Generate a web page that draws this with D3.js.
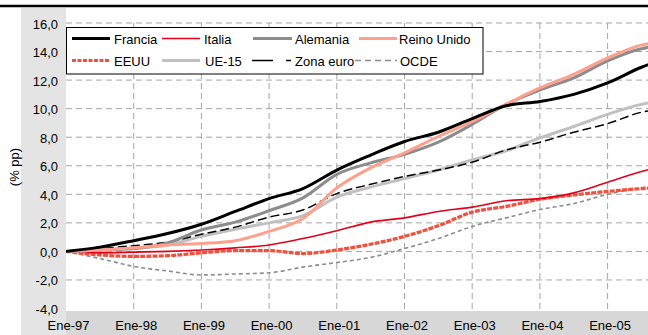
<!DOCTYPE html>
<html><head><meta charset="utf-8">
<script src="https://cdn.jsdelivr.net/npm/d3@7"></script>
<style>html,body{margin:0;padding:0;background:#fff;}svg{display:block;font-family:"Liberation Sans",Arial,sans-serif;}</style>
</head><body>
<script>
// months since Ene-97
const months = [0,6,12,18,24,30,36,42,48,54,60,66,72,78,84,90,96,102,104];
const xTickLabels = ["Ene-97","Ene-98","Ene-99","Ene-00","Ene-01","Ene-02","Ene-03","Ene-04","Ene-05"];
const yTicks = [16,14,12,10,8,6,4,2,0,-2,-4];
const francia    = [0,0.3,0.75,1.25,1.9,2.8,3.7,4.4,5.7,6.75,7.7,8.35,9.3,10.2,10.5,11.0,11.8,12.9,13.2];
const italia     = [0,-0.1,-0.05,0.0,0.1,0.25,0.45,0.9,1.45,2.05,2.35,2.8,3.1,3.55,3.7,4.1,4.85,5.6,5.8];
const alemania   = [0,0.1,0.2,0.6,1.5,2.05,2.85,3.75,5.4,6.2,6.8,7.65,8.9,10.3,11.3,12.15,13.35,14.2,14.35];
const reinoUnido = [0,0.1,0.25,0.45,0.55,0.75,1.4,2.3,4.45,5.85,6.9,8.05,9.1,10.3,11.45,12.4,13.55,14.45,14.6];
const eeuu       = [0,-0.25,-0.35,-0.3,-0.1,0.05,0.05,-0.15,0.1,0.5,1.05,1.8,2.75,3.15,3.65,3.95,4.2,4.4,4.45];
const ue15       = [0,0.1,0.2,0.45,1.05,1.55,2.0,2.5,3.8,4.5,5.1,5.7,6.4,7.05,7.95,8.75,9.6,10.3,10.45];
const zonaEuro   = [0,0.2,0.4,0.65,1.2,1.7,2.4,2.9,4.05,4.7,5.25,5.7,6.25,7.1,7.65,8.35,8.95,9.75,9.9];
const ocde       = [0,-0.5,-1.05,-1.37,-1.65,-1.58,-1.5,-1.1,-0.78,-0.42,0.2,0.9,1.75,2.35,2.93,3.35,4.0,4.45,4.55];

const W = 648, H = 335;
const svg = d3.select("body").append("svg").attr("width", W).attr("height", H);

const x = d3.scaleLinear().domain([0, 108]).range([66, 66 + 9 * 67.7]);
const y = d3.scaleLinear().domain([16, -4]).range([23, 308.5]);

// background bands
svg.append("rect").attr("x", 21).attr("y", 8).attr("width", 45).attr("height", H - 8).attr("fill", "#e4e4e4");
svg.append("rect").attr("x", 66).attr("y", 311).attr("width", W - 66).attr("height", H - 311).attr("fill", "#d7d7d7");
// top rule
svg.append("line").attr("x1", 0).attr("x2", W).attr("y1", 6).attr("y2", 6).attr("stroke", "#000").attr("stroke-width", 2.5);

svg.append("clipPath").attr("id", "clip").append("rect").attr("x", 66).attr("y", 15).attr("width", W - 66).attr("height", 296);
const plot = svg.append("g").attr("clip-path", "url(#clip)");

// gridlines
const gridColor = "#a6a6a6";
plot.selectAll(".hg").data(yTicks.filter(v => v > -4)).enter().append("line")
  .attr("x1", 66).attr("x2", W).attr("y1", d => y(d)).attr("y2", d => y(d))
  .attr("stroke", gridColor).attr("stroke-width", 1).attr("stroke-dasharray", "6,4");
plot.selectAll(".vg").data(xTickLabels.map((d, i) => i * 12).filter(m => m > 0)).enter().append("line")
  .attr("x1", d => x(d)).attr("x2", d => x(d)).attr("y1", y(16)).attr("y2", 311)
  .attr("stroke", gridColor).attr("stroke-width", 1).attr("stroke-dasharray", "6,4");

// y tick labels
svg.selectAll(".yl").data(yTicks).enter().append("text")
  .attr("x", 58).attr("y", d => y(d) + 5.5).attr("text-anchor", "end")
  .attr("font-size", 13).attr("fill", "#000").text(d => d3.format(".1f")(d).replace(".", ",").replace("−", "-"));
// x tick labels
svg.selectAll(".xl").data(xTickLabels).enter().append("text")
  .attr("x", (d, i) => x(i * 12) + 2.5).attr("y", 330).attr("text-anchor", "middle")
  .attr("font-size", 13).attr("fill", "#000").text(d => d);
// y title
svg.append("text").attr("transform", "translate(19,167) rotate(-90)").attr("text-anchor", "middle")
  .attr("font-size", 13).attr("fill", "#000").text("(% pp)");

const series = [
  {name: "OCDE", values: ocde, color: "#8c8c8c", width: 1.6, dash: "4,3"},
  {name: "EEUU", values: eeuu, color: "#f0503c", width: 3.2, dash: "5,1.2"},
  {name: "Italia", values: italia, color: "#e2001a", width: 1.6, dash: null},
  {name: "UE-15", values: ue15, color: "#c0c0c0", width: 3, dash: null},
  {name: "Zona euro", values: zonaEuro, color: "#000", width: 1.5, dash: "9,4"},
  {name: "Alemania", values: alemania, color: "#8c8c8c", width: 3, dash: null},
  {name: "Reino Unido", values: reinoUnido, color: "#ffa08c", width: 3, dash: null},
  {name: "Francia", values: francia, color: "#000", width: 3, dash: null}
];
const line = d3.line().curve(d3.curveMonotoneX).x(d => x(d[0])).y(d => y(d[1]));
series.forEach(s => {
  plot.append("path").datum(months.map((m, i) => [m, s.values[i]]))
    .attr("d", line).attr("fill", "none").attr("stroke", s.color)
    .attr("stroke-width", s.width).attr("stroke-dasharray", s.dash)
    .attr("stroke-linejoin", "round");
});

// legend
const lg = svg.append("g");
lg.append("rect").attr("x", 66.5).attr("y", 27.5).attr("width", 416.5).attr("height", 46.5)
  .attr("fill", "#fff").attr("stroke", "#000").attr("stroke-width", 1);
const byName = Object.fromEntries(series.map(s => [s.name, s]));
const legendItems = [
  {name: "Francia", x1: 72, x2: 110, tx: 114, row: 0},
  {name: "Italia", x1: 162, x2: 200, tx: 204, row: 0},
  {name: "Alemania", x1: 253, x2: 292, tx: 295, row: 0},
  {name: "Reino Unido", x1: 359, x2: 397, tx: 399, row: 0},
  {name: "EEUU", x1: 72, x2: 110, tx: 114, row: 1, dash: "4,1.5"},
  {name: "UE-15", x1: 162, x2: 200, tx: 205, row: 1},
  {name: "Zona euro", x1: 252, x2: 291, tx: 295, row: 1, dash: "21,13"},
  {name: "OCDE", x1: 355, x2: 397, tx: 400, row: 1, dash: "6,4"}
];
legendItems.forEach(it => {
  const s = byName[it.name];
  const ly = it.row === 0 ? 38.5 : 60.5;
  lg.append("line").attr("x1", it.x1).attr("x2", it.x2).attr("y1", ly).attr("y2", ly)
    .attr("stroke", s.color).attr("stroke-width", s.width)
    .attr("stroke-dasharray", it.dash || s.dash);
  lg.append("text").attr("x", it.tx).attr("y", ly + 5).attr("font-size", 13).attr("fill", "#000").text(it.name);
});
</script>
</body></html>
